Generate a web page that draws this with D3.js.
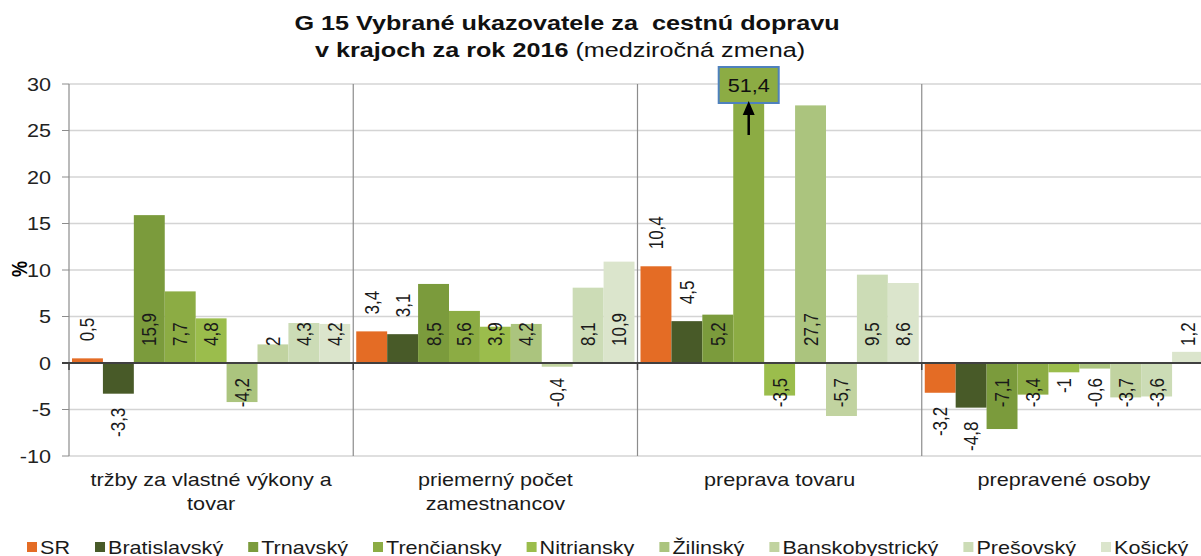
<!DOCTYPE html>
<html lang="sk">
<head>
<meta charset="UTF-8" />
<title>G 15 cestná doprava</title>
<style>
  body { margin: 0; background: #fff; }
  svg { display: block; font-family: "Liberation Sans", Arial, sans-serif; }
</style>
</head>
<body>
<script src="https://cdn.jsdelivr.net/npm/d3@7"></script>
<div id="app"></div>
<script>
// Data
const categories = ["tržby za vlastné výkony a tovar", "priemerný počet zamestnancov", "preprava tovaru", "prepravené osoby"];
const series = ["SR", "Bratislavský", "Trnavský", "Trenčiansky", "Nitriansky", "Žilinský", "Banskobystrický", "Prešovský", "Košický"];
const trzby = [0.5, -3.3, 15.9, 7.7, 4.8, -4.2, 2, 4.3, 4.2];
const zamestnanci = [3.4, 3.1, 8.5, 5.6, 3.9, 4.2, -0.4, 8.1, 10.9];
const tovar = [10.4, 4.5, 5.2, 51.4, -3.5, 27.7, -5.7, 9.5, 8.6];
const osoby = [-3.2, -4.8, -7.1, -3.4, -1, -0.6, -3.7, -3.6, 1.2];
const yTicks = [-10, -5, 0, 5, 10, 15, 20, 25, 30];
const colors = ["#e46c25", "#485a28", "#7b9b3c", "#8cac44", "#9bbd4c", "#abc47e", "#c1d3a0", "#ccdcb6", "#dbe5cc"];

const values = [trzby, zamestnanci, tovar, osoby];
const rows = [];
categories.forEach((c, i) => series.forEach((s, j) => rows.push({ cat: c, ser: s, i: j, v: values[i][j] })));

//Canvas
const w = 1201, h = 556;
const sx = 1.2; // text in the picture is stretched horizontally
const svg = d3.select("#app").append("svg").attr("width", w).attr("height", h);

const pLeft = 69, pRight = 1206, pTop = 84, pBottom = 456;
const x0 = d3.scaleBand().domain(categories).range([pLeft, pRight]);
const x1 = d3.scaleBand().domain(series).range([3, x0.bandwidth() - 3]);
const y = d3.scaleLinear().domain([-10, 30]).range([pBottom, pTop]);
const fmt = v => String(v).replace(".", ",");

// text helper with horizontal stretch
const txt = (g, x, yy, s, rot) => g.append("text")
  .attr("transform", "translate(" + x + "," + yy + ") scale(" + sx + ",1)" + (rot ? " rotate(-90)" : ""))
  .text(s);

//Title
const title = svg.append("g").attr("fill", "#111").attr("text-anchor", "middle").style("font-size", "21px");
txt(title, 567, 30, "G 15 Vybrané ukazovatele za  cestnú dopravu").attr("font-weight", "bold").style("white-space", "pre");
const t2 = title.append("text").attr("transform", "translate(560,57) scale(" + sx + ",1)");
t2.append("tspan").attr("font-weight", "bold").text("v krajoch za rok 2016");
t2.append("tspan").text(" (medziročná zmena)");

//Grid
svg.append("g").selectAll("line").data(yTicks).join("line")
  .attr("x1", pLeft).attr("x2", w).attr("y1", d => y(d)).attr("y2", d => y(d))
  .attr("stroke", "#d4d4d4").attr("stroke-width", 1.5);
svg.append("g").selectAll("line").data(yTicks).join("line")
  .attr("x1", pLeft - 7).attr("x2", pLeft).attr("y1", d => y(d)).attr("y2", d => y(d))
  .attr("stroke", "#8c8c8c");
const yl = svg.append("g").attr("fill", "#222").attr("text-anchor", "end").style("font-size", "18px");
yTicks.forEach(t => txt(yl, 51, y(t) + 6.5, String(t)));
txt(svg.append("g").attr("text-anchor", "middle").style("font-size", "18px").attr("font-weight", "bold"), 27, 269, "%", true);

// group separators
const bounds = categories.map(c => x0(c)).concat([pRight]);
svg.append("g").selectAll("line").data(bounds).join("line")
  .attr("x1", d => d).attr("x2", d => d).attr("y1", pTop).attr("y2", pBottom)
  .attr("stroke", "#8c8c8c").attr("stroke-width", 1.2);

//Bars
svg.append("clipPath").attr("id", "plot").append("rect")
  .attr("x", pLeft).attr("y", pTop).attr("width", pRight - pLeft).attr("height", pBottom - pTop);
svg.append("g").attr("clip-path", "url(#plot)").selectAll("rect").data(rows).join("rect")
  .attr("x", d => x0(d.cat) + x1(d.ser))
  .attr("width", x1.bandwidth())
  .attr("y", d => y(Math.max(0, d.v)))
  .attr("height", d => Math.abs(y(d.v) - y(0)))
  .attr("fill", d => colors[d.i]);

// zero line
svg.append("line").attr("x1", pLeft - 7).attr("x2", w).attr("y1", y(0)).attr("y2", y(0))
  .attr("stroke", "#404040").attr("stroke-width", 2);
svg.append("g").selectAll("line").data(bounds).join("line")
  .attr("x1", d => d).attr("x2", d => d).attr("y1", y(0)).attr("y2", y(0) + 7)
  .attr("stroke", "#404040").attr("stroke-width", 1.5);

//Labels
const lab = svg.append("g").attr("fill", "#1a1a1a").style("font-size", "17px");
rows.forEach(d => {
  const cx = x0(d.cat) + x1(d.ser) + x1.bandwidth() / 2 + 7;
  if (d.v > 30) return;
  let yy, anchor;
  if (d.i < 2) {
    // outside end for SR and Bratislavský
    if (d.v >= 0) { yy = y(d.v) - 17; anchor = "start"; } else { yy = y(d.v) + 14; anchor = "end"; }
  } else {
    if (d.v >= 0) { yy = y(0) - 17; anchor = "start"; } else { yy = y(0) + 15; anchor = "end"; }
  }
  txt(lab, cx, yy, fmt(d.v), true).attr("text-anchor", anchor);
});

// callout for value beyond the axis
rows.filter(d => d.v > 30).forEach(d => {
  const cx = x0(d.cat) + x1(d.ser) + x1.bandwidth() / 2;
  const bw = 60, bh = 36, by = pTop - 17;
  svg.append("rect").attr("x", cx - bw / 2).attr("y", by).attr("width", bw).attr("height", bh)
    .attr("fill", colors[d.i]).attr("stroke", "#4f81bd").attr("stroke-width", 2);
  txt(svg.append("g").attr("text-anchor", "middle").style("font-size", "18px").attr("fill", "#111"),
    cx, by + bh / 2 + 6.5, fmt(d.v));
  svg.append("line").attr("x1", cx).attr("x2", cx).attr("y1", by + bh + 32).attr("y2", by + bh + 8)
    .attr("stroke", "#000").attr("stroke-width", 2.5);
  svg.append("path")
    .attr("d", "M" + (cx - 6) + "," + (by + bh + 12) + "L" + cx + "," + (by + bh - 2) + "L" + (cx + 6) + "," + (by + bh + 12) + "Z")
    .attr("fill", "#000");
});

//Category labels
const cl = svg.append("g").attr("fill", "#1a1a1a").attr("text-anchor", "middle").style("font-size", "18px");
categories.forEach(c => {
  const cx = x0(c) + x0.bandwidth() / 2;
  const t = cl.append("text").attr("transform", "translate(" + cx + ",486) scale(" + sx + ",1)");
  const words = c.split(" ");
  let line = [];
  let ts = t.append("tspan").attr("x", 0).attr("dy", 0);
  words.forEach(wd => {
    line.push(wd);
    ts.text(line.join(" "));
    if (ts.node().getComputedTextLength() * sx > 255 && line.length > 1) {
      line.pop();
      ts.text(line.join(" "));
      line = [wd];
      ts = t.append("tspan").attr("x", 0).attr("dy", "1.35em").text(wd);
    }
  });
});

//Legend
const lg = svg.append("g").style("font-size", "18px").attr("fill", "#1a1a1a");
let lx = 27;
series.forEach((s, i) => {
  lg.append("rect").attr("x", lx).attr("y", 542).attr("width", 10).attr("height", 10).attr("fill", colors[i]);
  const t = txt(lg, lx + 13, 553.5, s);
  lx += 13 + t.node().getComputedTextLength() * sx + 25;
});
</script>
</body>
</html>
